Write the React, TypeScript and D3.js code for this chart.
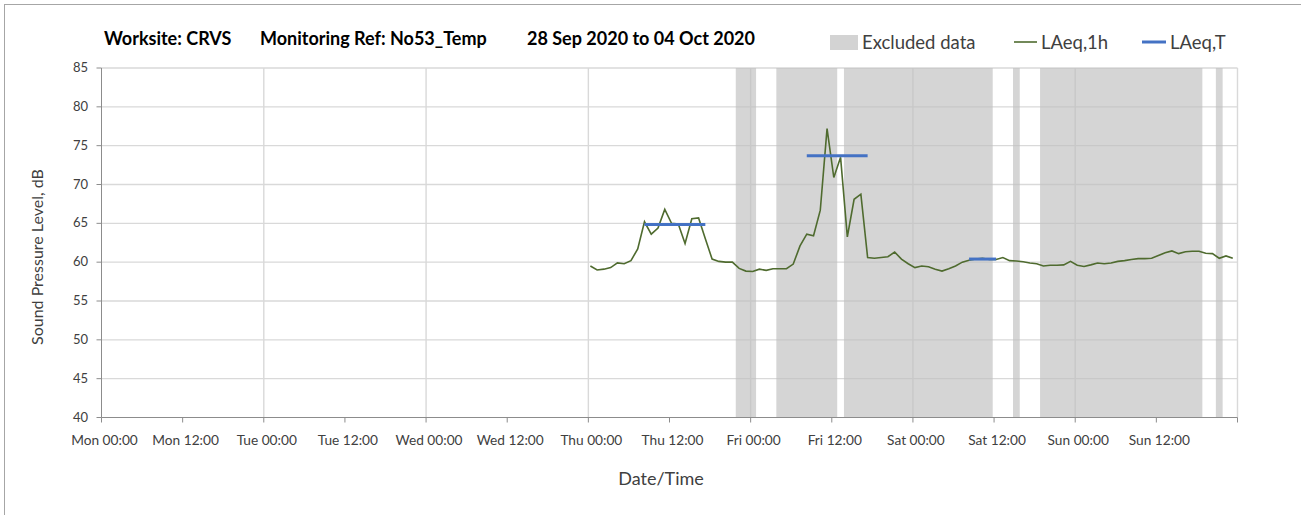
import { useEffect, useRef } from 'react';
import * as d3 from 'd3';

// hourly LAeq,1h from Thu 00:00 (hour 72 of the week) to Sun 23:00 (hour 167)
const FIRST_HOUR = 72;
const laeq1h = [
  59.5, 59.0, 59.1, 59.3, 59.9, 59.8, 60.2, 61.7, 65.2, 63.6, 64.4, 66.8,
  65.0, 64.9, 62.4, 65.6, 65.7, 63.0, 60.4, 60.1, 60.0, 60.0, 59.2, 58.85,
  58.8, 59.1, 58.95, 59.15, 59.15, 59.15, 59.75, 62.1, 63.6, 63.4, 66.7, 77.2,
  70.9, 73.5, 63.25, 68.1, 68.75, 60.6, 60.5, 60.6, 60.7, 61.3, 60.4, 59.8,
  59.3, 59.5, 59.4, 59.1, 58.85, 59.15, 59.5, 60.0, 60.25, 60.4, 60.5, 60.35,
  60.35, 60.6, 60.2, 60.15, 60.05, 59.9, 59.8, 59.5, 59.6, 59.6, 59.65, 60.1,
  59.6, 59.45, 59.65, 59.9, 59.8, 59.9, 60.1, 60.2, 60.35, 60.45, 60.45, 60.5,
  60.85, 61.2, 61.45, 61.1, 61.35, 61.4, 61.4, 61.15, 61.1, 60.5, 60.8, 60.5,
];

// logger readings sit 18 min past each hour
const LOG_OFFSET = 0.3;

// excluded hours (first, last) of the week
const excludedStart = [94, 100, 110, 135, 139, 165];
const excludedEnd = [96, 108, 131, 135, 162, 165];

// LAeq,T over working periods (first hour, last hour, level)
const periodStart = [80, 104, 128];
const periodEnd = [89, 113, 132];
const periodLevel = [64.85, 73.7, 60.4];

const tickLabels = [
  'Mon 00:00', 'Mon 12:00', 'Tue 00:00', 'Tue 12:00', 'Wed 00:00', 'Wed 12:00',
  'Thu 00:00', 'Thu 12:00', 'Fri 00:00', 'Fri 12:00', 'Sat 00:00', 'Sat 12:00',
  'Sun 00:00', 'Sun 12:00',
];
const yTicks = [40, 45, 50, 55, 60, 65, 70, 75, 80, 85];

const FONT = 'Lato, "Open Sans", sans-serif';

export default function App() {
  const svgRef = useRef<SVGSVGElement>(null);

  useEffect(() => {
    if (!svgRef.current) return;
    const width = 1301;
    const height = 515;
    const svg = d3.select(svgRef.current);
    svg.selectAll('*').remove();
    svg.attr('width', width).attr('height', height);

    const x = d3.scaleLinear().domain([0, 168]).range([101.5, 1237.5]);
    const y = d3.scaleLinear().domain([40, 85]).range([417.5, 68]);

    // outer frame
    svg.append('rect')
      .attr('x', 4.5).attr('y', 4.5)
      .attr('width', width + 10).attr('height', height + 10)
      .style('fill', '#fff')
      .style('stroke', '#a6a6a6')
      .style('stroke-width', 1);

    // gridlines
    const grid = svg.append('g');
    grid.selectAll('line.h')
      .data(yTicks.filter(t => t > 40))
      .enter().append('line')
      .attr('x1', x(0)).attr('x2', x(168))
      .attr('y1', d => y(d)).attr('y2', d => y(d))
      .style('stroke', '#d9d9d9').style('stroke-width', 1.4);
    grid.selectAll('line.v')
      .data(d3.range(24, 169, 24))
      .enter().append('line')
      .attr('y1', y(40)).attr('y2', y(85))
      .attr('x1', d => x(d)).attr('x2', d => x(d))
      .style('stroke', '#d9d9d9').style('stroke-width', 1.4);

    // excluded data bands
    svg.append('g')
      .selectAll('rect')
      .data(excludedStart.map((s, i) => [s, excludedEnd[i]]))
      .enter().append('rect')
      .attr('x', d => x(d[0] + LOG_OFFSET - 0.5))
      .attr('width', d => x(d[1] + LOG_OFFSET + 0.5) - x(d[0] + LOG_OFFSET - 0.5))
      .attr('y', y(85)).attr('height', y(40) - y(85))
      .style('fill', '#bfbfbf').style('fill-opacity', 0.65);

    // axes
    const axisColor = '#8c8c8c';
    svg.append('line')
      .attr('x1', x(0)).attr('x2', x(0)).attr('y1', y(85)).attr('y2', y(40))
      .style('stroke', axisColor);
    svg.append('line')
      .attr('x1', x(0)).attr('x2', x(168)).attr('y1', y(40)).attr('y2', y(40))
      .style('stroke', axisColor);

    svg.append('g').selectAll('line')
      .data(yTicks)
      .enter().append('line')
      .attr('x1', x(0) - 5).attr('x2', x(0))
      .attr('y1', d => y(d)).attr('y2', d => y(d))
      .style('stroke', axisColor);
    svg.append('g').selectAll('text')
      .data(yTicks)
      .enter().append('text')
      .attr('x', 88).attr('y', d => y(d) + 4)
      .attr('text-anchor', 'end')
      .text(d => d)
      .style('font-family', FONT).style('font-size', '13px').style('fill', '#404040');

    svg.append('g').selectAll('line')
      .data(d3.range(0, 169, 12))
      .enter().append('line')
      .attr('x1', d => x(d)).attr('x2', d => x(d))
      .attr('y1', y(40)).attr('y2', y(40) + 5)
      .style('stroke', axisColor);
    svg.append('g').selectAll('text')
      .data(tickLabels)
      .enter().append('text')
      .attr('x', (_, i) => x(i * 12) + 3)
      .attr('y', 445)
      .attr('text-anchor', 'middle')
      .text(d => d)
      .style('font-family', FONT).style('font-size', '13.7px').style('fill', '#404040');

    // axis titles
    svg.append('text')
      .attr('x', 661).attr('y', 485)
      .attr('text-anchor', 'middle')
      .text('Date/Time')
      .style('font-family', FONT).style('font-size', '18px').style('fill', '#404040');
    svg.append('text')
      .attr('transform', 'translate(43,257) rotate(-90)')
      .attr('text-anchor', 'middle')
      .text('Sound Pressure Level, dB')
      .style('font-family', FONT).style('font-size', '16px').style('fill', '#404040');

    // LAeq,1h line
    const line = d3.line<number>()
      .x((_, i) => x(FIRST_HOUR + i + LOG_OFFSET))
      .y(d => y(d));
    svg.append('path')
      .datum(laeq1h)
      .attr('d', line)
      .style('fill', 'none')
      .style('stroke', '#4f6b2f')
      .style('stroke-width', 1.6);

    // LAeq,T segments
    svg.append('g').selectAll('line')
      .data(periodStart.map((s, i) => ({ s, e: periodEnd[i], v: periodLevel[i] })))
      .enter().append('line')
      .attr('x1', d => x(d.s + LOG_OFFSET)).attr('x2', d => x(d.e + LOG_OFFSET))
      .attr('y1', d => y(d.v)).attr('y2', d => y(d.v))
      .style('stroke', '#4472c4').style('stroke-width', 3);

    // title
    const title = svg.append('g')
      .style('font-family', FONT).style('font-size', '18px').style('font-weight', 'bold').style('fill', '#000');
    title.append('text').attr('x', 104).attr('y', 45).text('Worksite: CRVS');
    title.append('text').attr('x', 260).attr('y', 45).text('Monitoring Ref: No53_Temp');
    title.append('text').attr('x', 527).attr('y', 45).text('28 Sep 2020 to 04 Oct 2020');

    // legend
    const legend = svg.append('g')
      .style('font-family', FONT).style('font-size', '18.5px').style('fill', '#404040');
    legend.append('rect')
      .attr('x', 830).attr('y', 35).attr('width', 28).attr('height', 15)
      .style('fill', '#d3d3d3');
    legend.append('text').attr('x', 862).attr('y', 49).text('Excluded data');
    legend.append('line')
      .attr('x1', 1014).attr('x2', 1037).attr('y1', 42).attr('y2', 42)
      .style('stroke', '#4f6b2f').style('stroke-width', 1.6);
    legend.append('text').attr('x', 1041).attr('y', 49).text('LAeq,1h');
    legend.append('line')
      .attr('x1', 1142).attr('x2', 1166).attr('y1', 42).attr('y2', 42)
      .style('stroke', '#4472c4').style('stroke-width', 3);
    legend.append('text').attr('x', 1170).attr('y', 49).text('LAeq,T');
  }, []);

  return (
    <div style={{ position: 'absolute', left: 0, top: 0 }}>
      <svg ref={svgRef} style={{ display: 'block' }} />
    </div>
  );
}
